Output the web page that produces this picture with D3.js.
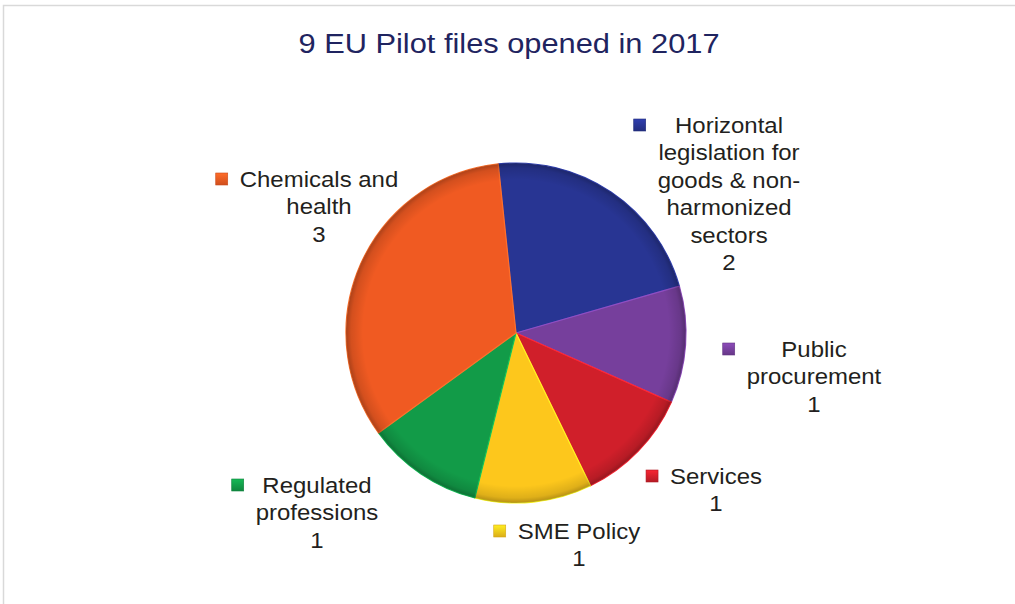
<!DOCTYPE html>
<html>
<head>
<meta charset="utf-8">
<script src="https://cdn.jsdelivr.net/npm/d3@7"></script>
<style>
  html, body { margin: 0; padding: 0; background: #fff; }
  svg { display: block; }
  text { font-family: "Liberation Sans", Arial, sans-serif; }
</style>
</head>
<body>
<svg id="chart" width="1015" height="604"></svg>
<script>
// ---- data ----
const title = "9 EU Pilot files opened in 2017";
const categories = [
  "Horizontal legislation for goods & non-harmonized sectors",
  "Public procurement",
  "Services",
  "SME Policy",
  "Regulated professions",
  "Chemicals and health"
];
const values = [2, 1, 1, 1, 1, 3];
const labelLines = [
  ["Horizontal", "legislation for", "goods & non-", "harmonized", "sectors"],
  ["Public", "procurement"],
  ["Services"],
  ["SME Policy"],
  ["Regulated", "professions"],
  ["Chemicals and", "health"]
];
const colors = ["#283593", "#763f9c", "#d01f2a", "#fdc71c", "#129b48", "#f05a22"];

// ---- layout ----
const W = 1015, H = 604;
const cx = 516, cy = 333, R = 170;
const startAngle = -6 * Math.PI / 180;
const labelPos = [
  { x: 729, y: 133 },
  { x: 814, y: 357 },
  { x: 716, y: 484 },
  { x: 579, y: 539 },
  { x: 317, y: 493 },
  { x: 319, y: 187 }
];
const lineH = 27.5;
const stretch = 1.09;

const svg = d3.select("#chart");
const defs = svg.append("defs");

// frame
svg.append("rect")
  .attr("x", 3.5).attr("y", 5.5)
  .attr("width", W + 20).attr("height", H + 20)
  .attr("fill", "#fff").attr("stroke", "#d9d9d9").attr("stroke-width", 1.5);

// title
svg.append("text")
  .attr("transform", `translate(509,53) scale(1.1,1)`)
  .attr("text-anchor", "middle")
  .attr("font-size", 28)
  .attr("fill", "#1f2460")
  .text(title);

// pie
const pie = d3.pie().sort(null).value(d => d)
  .startAngle(startAngle).endAngle(startAngle + 2 * Math.PI);
const arcs = pie(values);
const arc = d3.arc().innerRadius(0).outerRadius(R);

// rim shading gradient
const rg = defs.append("radialGradient").attr("id", "rim")
  .attr("gradientUnits", "userSpaceOnUse")
  .attr("cx", 0).attr("cy", 0).attr("r", R);
rg.append("stop").attr("offset", "0.9").attr("stop-color", "#000").attr("stop-opacity", 0);
rg.append("stop").attr("offset", "0.97").attr("stop-color", "#000").attr("stop-opacity", 0.12);
rg.append("stop").attr("offset", "1").attr("stop-color", "#000").attr("stop-opacity", 0.28);

const gPie = svg.append("g").attr("transform", `translate(${cx},${cy})`);
gPie.selectAll("path.slice")
  .data(arcs)
  .join("path")
  .attr("class", "slice")
  .attr("d", arc)
  .attr("fill", (d, i) => colors[i])
  .attr("stroke", (d, i) => d3.color(colors[i]).brighter(0.6))
  .attr("stroke-width", 1.2)
  .attr("stroke-linejoin", "round");
gPie.selectAll("path.rim")
  .data(arcs)
  .join("path")
  .attr("class", "rim")
  .attr("d", arc)
  .attr("fill", "url(#rim)");

// marker gradients
colors.forEach((c, i) => {
  const lg = defs.append("linearGradient").attr("id", "mk" + i)
    .attr("x1", 0).attr("y1", 0).attr("x2", 0).attr("y2", 1);
  lg.append("stop").attr("offset", 0).attr("stop-color", d3.color(c).brighter(0.5));
  lg.append("stop").attr("offset", 1).attr("stop-color", d3.color(c).darker(0.4));
});

// labels
arcs.forEach((a, i) => {
  const p = labelPos[i];
  const lines = labelLines[i].concat([String(values[i])]);
  const g = svg.append("g").attr("transform", `translate(${p.x},${p.y})`);
  const inner = g.append("g").attr("transform", `scale(${stretch},1)`);
  let maxW = 0;
  lines.forEach((ln, k) => {
    const t = inner.append("text")
      .attr("x", 0).attr("y", k * lineH)
      .attr("text-anchor", "middle")
      .attr("font-size", 22)
      .attr("fill", "#231f20")
      .text(ln);
    maxW = Math.max(maxW, t.node().getComputedTextLength() * stretch);
  });
  const ms = 12;
  g.append("rect")
    .attr("x", -maxW / 2 - 12 - ms)
    .attr("y", -8 - ms / 2)
    .attr("width", ms).attr("height", ms)
    .attr("fill", `url(#mk${i})`)
    .attr("stroke", d3.color(colors[i]).darker(0.5))
    .attr("stroke-width", 0.6);
});
</script>
</body>
</html>
